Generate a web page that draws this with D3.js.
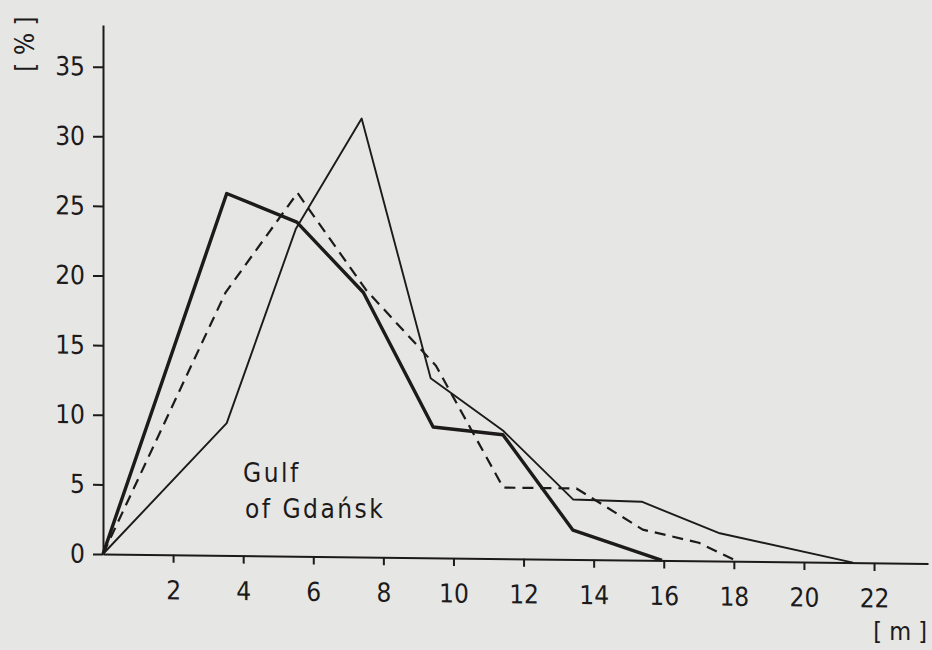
<!DOCTYPE html>
<html>
<head>
<meta charset="utf-8">
<script src="https://cdn.jsdelivr.net/npm/d3@7"></script>
<style>
  html, body { margin: 0; padding: 0; background: #e6e6e4; }
  svg { display: block; }
  text {
    font-family: "DejaVu Sans Condensed", "DejaVu Sans", sans-serif;
    font-stretch: condensed;
    fill: #1c1a1a;
  }
  .axis path, .axis line { stroke: #1c1a1a; stroke-width: 2px; }
  .axis text { font-size: 26px; }
</style>
</head>
<body>
<div id="chart"></div>
<script>
// --- Layout ---
const width = 932;
const height = 650;

// --- Data (depth in m, share in %) ---
const yTicks = [0, 5, 10, 15, 20, 25, 30, 35];
const xTicks = [2, 4, 6, 8, 10, 12, 14, 16, 18, 20, 22];

// thick solid line
const thickX = [0, 3.53, 5.53, 7.43, 9.42, 11.41, 13.41, 15.95];
const thickY = [0, 26.0, 24.0, 19.0, 9.4, 8.9, 2.1, 0];

// dashed line
const dashedX = [0, 3.5, 5.55, 7.5, 9.5, 11.42, 13.51, 15.4, 17.0, 18.1];
const dashedY = [0, 18.9, 26.1, 19.2, 13.8, 5.1, 5.1, 2.2, 1.3, 0];

// thin solid line
const thinX = [0, 3.53, 5.5, 7.38, 9.35, 11.41, 13.42, 15.37, 17.6, 21.4];
const thinY = [0, 9.5, 23.5, 31.5, 12.9, 9.2, 4.3, 4.2, 2.0, 0];

const series = [
  { name: "thick", xs: thickX, ys: thickY, width: 3.4, dash: null },
  { name: "dashed", xs: dashedX, ys: dashedY, width: 2.2, dash: "11,7" },
  { name: "thin", xs: thinX, ys: thinY, width: 1.9, dash: null }
];

// --- SVG ---
const svg = d3
  .select("#chart")
  .append("svg")
  .attr("width", width)
  .attr("height", height);

svg.append("rect").attr("width", width).attr("height", height).attr("fill", "#e6e6e4");

// scales (axes run a bit past the last tick, as in the print)
const x = d3.scaleLinear().domain([0, 23.54]).range([103, 928]);
const y = d3.scaleLinear().domain([0, 38]).range([554, 25]);

// the scanned page is slightly sheared: the x axis drifts down to the right
const plot = svg
  .append("g")
  .attr("transform", `translate(103,554) skewY(0.66) translate(-103,-554)`);

plot
  .append("g")
  .attr("class", "axis")
  .attr("transform", `translate(0,${y(0)})`)
  .call(
    d3.axisBottom(x).tickValues(xTicks).tickSize(8).tickSizeOuter(0).tickPadding(18)
  );

plot
  .append("g")
  .attr("class", "axis")
  .attr("transform", `translate(${x(0)},0)`)
  .call(
    d3.axisLeft(y).tickValues(yTicks).tickSize(10).tickSizeOuter(0).tickPadding(8)
  );

d3.selectAll(".axis .tick text").attr("fill", "#1c1a1a").style("font-size", "26px");

const line = d3
  .line()
  .x((d) => x(d[0]))
  .y((d) => y(d[1]));

plot
  .selectAll("path.series")
  .data(series)
  .join("path")
  .attr("class", "series")
  .attr("d", (s) => line(d3.zip(s.xs, s.ys)))
  .attr("fill", "none")
  .attr("stroke", "#1c1a1a")
  .attr("stroke-width", (s) => s.width)
  .attr("stroke-dasharray", (s) => s.dash)
  .attr("stroke-linejoin", "round");

// --- Labels ---
svg
  .append("text")
  .attr("transform", "translate(34,44) rotate(-90)")
  .attr("text-anchor", "middle")
  .style("font-size", "26px")
  .text("[ % ]");

svg
  .append("text")
  .attr("x", 927)
  .attr("y", 640)
  .attr("text-anchor", "end")
  .style("font-size", "25px")
  .text("[ m ]");

svg
  .append("text")
  .attr("x", 243)
  .attr("y", 482)
  .style("font-size", "26px")
  .style("letter-spacing", "2.5px")
  .text("Gulf");

svg
  .append("text")
  .attr("x", 245)
  .attr("y", 518)
  .style("font-size", "26px")
  .style("letter-spacing", "2.5px")
  .text("of Gdańsk");
</script>
</body>
</html>
